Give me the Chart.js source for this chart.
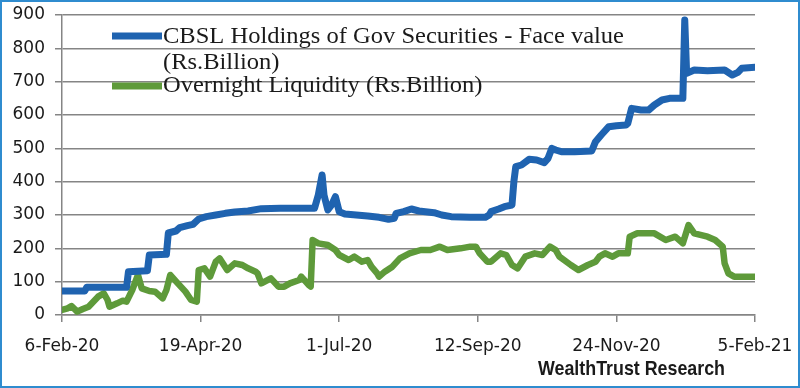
<!DOCTYPE html>
<html>
<head>
<meta charset="utf-8">
<script src="https://cdn.jsdelivr.net/npm/chart.js@4/dist/chart.umd.min.js"></script>
<style>
html,body{margin:0;padding:0;background:#fff;}
#wrap{position:relative;width:800px;height:388px;box-sizing:border-box;border:2px solid #2f8ccf;background:#fff;}
canvas{display:block;}
</style>
</head>
<body>
<div id="wrap"><canvas id="c" width="796" height="384"></canvas></div>
<script>
// x tick labels (one every 73 days, 6-Feb-20 .. 5-Feb-21)
const tickLabels = ['6-Feb-20','19-Apr-20','1-Jul-20','12-Sep-20','24-Nov-20','5-Feb-21'];
const seriesNames = [
  ['CBSL Holdings of Gov Securities - Face value', '(Rs.Billion)'],
  ['Overnight Liquidity (Rs.Billion)']
];
const sourceText = 'WealthTrust Research';

// CBSL holdings (days since 6-Feb-20, Rs.Billion)
const cbslDays   = [0,12,13,34,35,45,46,55,56,60,62,66,69,72,76,81,86,91,98,105,115,125,133,135,137,138,140,142,144,146,149,155,161,167,172,175,176,180,184,188,196,200,205,215,223,225,226,230,233,237,238,239,242,246,250,254,256,258,260,263,270,279,281,284,288,292,297,298,300,305,309,312,316,320,327,328,329,333,340,349,353,356,358,365];
const cbslValues = [72,72,83,83,130,133,180,182,246,252,262,268,272,288,295,300,305,309,312,319,320,320,320,360,420,360,315,330,355,310,303,300,297,293,287,290,305,310,318,312,307,300,295,293,293,300,310,318,325,330,400,445,450,467,465,457,470,500,495,490,490,492,520,540,565,568,570,575,620,615,615,630,645,650,650,885,725,735,733,735,720,728,740,743];

// Overnight liquidity (days since 6-Feb-20, Rs.Billion)
const liqDays   = [0,3,5,8,11,14,19,22,24,25,29,32,34,37,40,42,46,49,53,55,57,61,65,68,71,72,75,78,81,83,87,91,95,98,102,103,105,110,114,117,120,125,126,130,131,132,135,140,144,146,151,154,158,161,163,166,167,170,174,178,183,189,194,199,203,210,215,218,220,224,226,231,234,237,240,244,249,253,257,260,262,268,272,277,281,283,286,290,293,298,299,303,312,318,323,327,330,333,340,344,348,349,351,354,365];
const liqValues = [15,20,27,10,18,25,55,65,45,25,35,43,40,75,120,80,72,70,50,75,120,95,70,45,40,135,140,115,160,170,135,155,150,140,130,125,95,110,85,85,95,105,115,90,85,225,215,210,195,180,165,175,160,165,145,125,115,130,145,170,185,195,195,205,195,200,205,205,185,160,160,185,180,150,140,175,185,180,205,195,175,150,135,150,160,175,185,175,185,185,235,245,245,225,235,215,270,245,235,225,205,155,125,115,115];

const toXY = (xs, ys) => xs.map((x, i) => ({x: x, y: ys[i]}));

const overlay = {
  id: 'overlay',
  afterDatasetsDraw(chart) {
    const ctx = chart.ctx;
    ctx.save();
    // legend
    const sx = 110, ex = 160, tx = 161;
    const baselines = [[41, 67], [90]];
    const sampleOff = [7, 6];
    ctx.font = '23px "Liberation Serif", "Times New Roman", serif';
    const k1 = 461 / ctx.measureText(seriesNames[0][0]).width;
    chart.data.datasets.forEach((d, i) => {
      const lines = seriesNames[i];
      const b = baselines[i];
      ctx.strokeStyle = d.borderColor;
      ctx.lineWidth = 7;
      ctx.lineCap = 'butt';
      ctx.beginPath();
      ctx.moveTo(sx, b[0] - sampleOff[i]);
      ctx.lineTo(ex, b[0] - sampleOff[i]);
      ctx.stroke();
      ctx.fillStyle = '#1a1a1a';
      ctx.textBaseline = 'alphabetic';
      ctx.textAlign = 'left';
      lines.forEach((t, j) => {
        ctx.save();
        ctx.translate(tx, b[j]);
        ctx.scale(k1, 1);
        ctx.fillText(t, 0, 0);
        ctx.restore();
      });
    });
    // source
    ctx.font = 'bold 21px "Liberation Sans Narrow", "Liberation Sans", Arial, sans-serif';
    ctx.fillStyle = '#1a1a1a';
    const w = ctx.measureText(sourceText).width;
    const k = 187 / w;
    ctx.translate(536, 373);
    ctx.scale(k, 1);
    ctx.fillText(sourceText, 0, 0);
    ctx.restore();
  }
};

new Chart(document.getElementById('c'), {
  type: 'line',
  data: {
    datasets: [
      {
        label: seriesNames[0].join(' '),
        data: toXY(cbslDays, cbslValues),
        borderColor: '#1f63b0',
        borderWidth: 7,
        pointRadius: 0,
        tension: 0,
        borderJoinStyle: 'round',
        borderCapStyle: 'round',
        fill: false
      },
      {
        label: seriesNames[1].join(' '),
        data: toXY(liqDays, liqValues),
        borderColor: '#5e9a3a',
        borderWidth: 6.5,
        pointRadius: 0,
        tension: 0,
        borderJoinStyle: 'round',
        borderCapStyle: 'round',
        fill: false
      }
    ]
  },
  options: {
    responsive: false,
    animation: false,
    devicePixelRatio: 1,
    layout: { padding: { top: 13, right: 43, left: 0, bottom: 0 } },
    plugins: { legend: { display: false }, tooltip: { enabled: false } },
    scales: {
      x: {
        type: 'linear',
        min: 0, max: 365,
        afterFit: s => { s.height = 71; s.paddingLeft = 0; s.paddingRight = 0; },
        afterBuildTicks: s => { s.ticks = tickLabels.map((t, i) => ({ value: i * 73 })); },
        ticks: {
          autoSkip: false,
          maxRotation: 0,
          padding: 14,
          color: '#1a1a1a',
          font: { family: '"DejaVu Sans", sans-serif', size: 17 },
          callback: (v, i) => tickLabels[i]
        },
        grid: { drawOnChartArea: false, drawTicks: true, tickLength: 7, color: '#858585', lineWidth: 1.5 },
        border: { display: true, color: '#858585', width: 1.5 }
      },
      y: {
        min: 0, max: 900,
        afterFit: s => { s.width = 60; s.paddingTop = 0; s.paddingBottom = 0; },
        ticks: {
          stepSize: 100,
          padding: 10,
          color: '#1a1a1a',
          font: { family: '"DejaVu Sans", sans-serif', size: 17 }
        },
        grid: { color: '#858585', lineWidth: 1.5, tickLength: 7, drawTicks: true },
        border: { display: true, color: '#858585', width: 1.5 }
      }
    }
  },
  plugins: [overlay]
});
</script>
</body>
</html>
